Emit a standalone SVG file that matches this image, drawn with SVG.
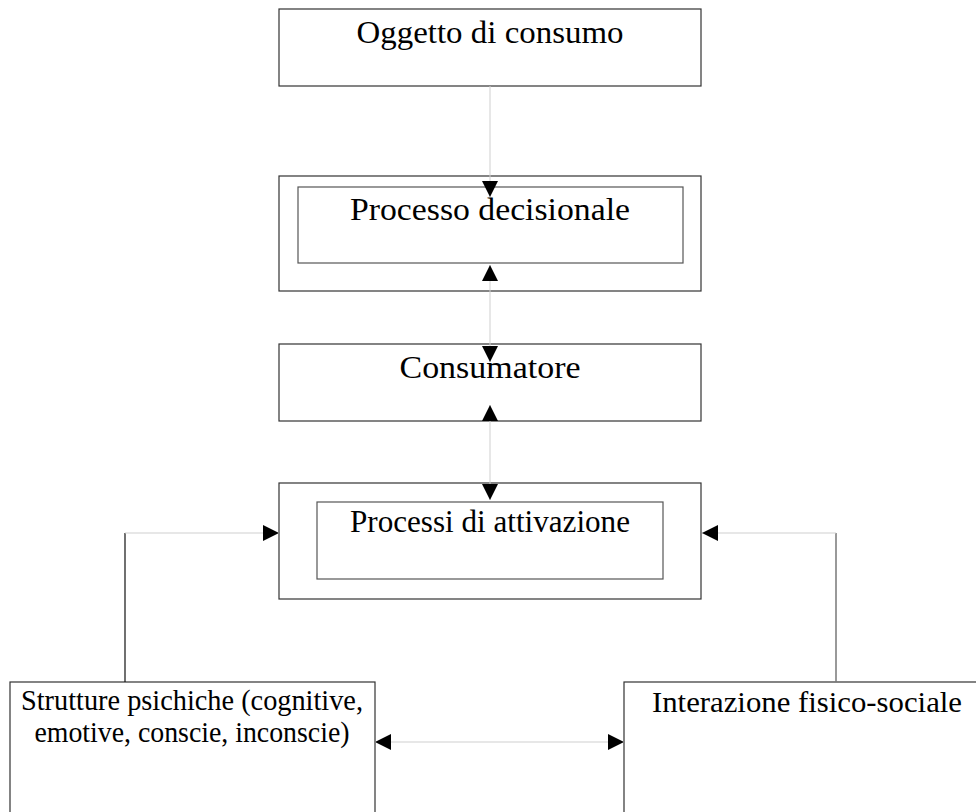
<svg xmlns="http://www.w3.org/2000/svg" width="976" height="812" viewBox="0 0 976 812">
<defs>
<style>
.box{fill:#fff;stroke:#333;stroke-width:1.2}
.inner{fill:#fff;stroke:#555;stroke-width:1.2}
.t{font-family:"Liberation Serif","Times New Roman",serif;font-size:31px;fill:#000;text-anchor:middle}
.ts{font-family:"Liberation Serif","Times New Roman",serif;font-size:29px;fill:#000;text-anchor:middle}
.c{fill:none;stroke:#cfcfcf;stroke-width:1}
.cd{fill:none;stroke:#111;stroke-width:1.2}
.cg{fill:none;stroke:#777;stroke-width:1.5}
</style>
<marker id="arr" viewBox="0 0 16 16" refX="16" refY="8" markerWidth="16" markerHeight="16" markerUnits="userSpaceOnUse" orient="auto-start-reverse">
<path d="M0,0 L16,8 L0,16 z" fill="#000"/>
</marker>
</defs>
<g id="oggetto">
<rect class="box" x="279" y="9" width="422" height="77"/>
<text class="t" x="490" y="43" textLength="267" lengthAdjust="spacingAndGlyphs">Oggetto di consumo</text>
</g>
<g id="processo-decisionale">
<rect class="box" x="279" y="176" width="422" height="115"/>
<rect class="inner" x="298" y="187" width="385" height="76"/>
<text class="t" x="490" y="220" textLength="280" lengthAdjust="spacingAndGlyphs">Processo decisionale</text>
</g>
<g id="consumatore">
<rect class="box" x="279" y="344" width="422" height="77"/>
<text class="t" x="490" y="378" textLength="181" lengthAdjust="spacingAndGlyphs">Consumatore</text>
</g>
<g id="processi-attivazione">
<rect class="box" x="279" y="483" width="422" height="116"/>
<rect class="inner" x="317" y="502" width="346" height="77"/>
<text class="t" x="490" y="532" textLength="280" lengthAdjust="spacingAndGlyphs">Processi di attivazione</text>
</g>
<g id="strutture">
<rect class="box" x="10" y="682" width="365" height="140"/>
<text class="ts" x="192" y="710" textLength="342" lengthAdjust="spacingAndGlyphs">Strutture psichiche (cognitive,</text>
<text class="ts" x="192" y="742" textLength="315" lengthAdjust="spacingAndGlyphs">emotive, conscie, inconscie)</text>
</g>
<g id="interazione">
<rect class="box" x="624" y="682" width="370" height="140"/>
<text class="ts" x="807" y="712" textLength="310" lengthAdjust="spacingAndGlyphs">Interazione fisico-sociale</text>
</g>
<g id="connectors">
<path class="c" d="M490,86 V197" marker-end="url(#arr)"/>
<path class="c" d="M490,265 V362" marker-start="url(#arr)" marker-end="url(#arr)"/>
<path class="c" d="M490,405 V500" marker-start="url(#arr)" marker-end="url(#arr)"/>
<path class="cd" d="M125,682 V533"/>
<path class="c" d="M125,533 H279" marker-end="url(#arr)"/>
<path class="cg" d="M836,682 V533"/>
<path class="c" d="M836,533 H702" marker-end="url(#arr)"/>
<path class="c" d="M375,742 H624" marker-start="url(#arr)" marker-end="url(#arr)"/>
</g>
</svg>
